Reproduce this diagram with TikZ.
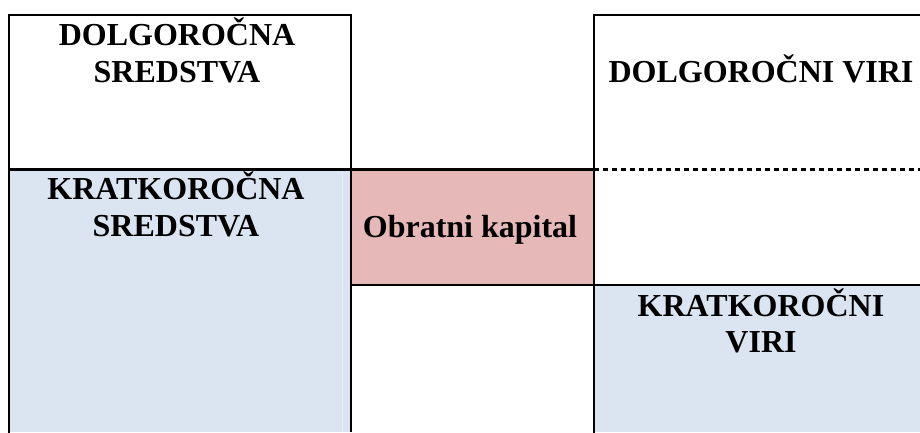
\documentclass[tikz,border=0pt]{standalone}
\usepackage{fontspec}
\setmainfont{Liberation Serif}
\definecolor{ltblue}{HTML}{DBE5F1}
\definecolor{ltpink}{HTML}{E6B9B8}
\definecolor{faint}{HTML}{E6EDF5}
\tikzset{
  lbl/.style={anchor=base, inner sep=0pt, font=\bfseries\fontsize{32}{36}\selectfont},
  rule/.style={line width=2.4pt, black},
  dotrule/.style={line width=2.6pt, black, dash pattern=on 5pt off 4pt}
}
\begin{document}
\begin{tikzpicture}[x=1pt,y=-1pt]
\useasboundingbox (0,0) rectangle (920,432);
\fill[white] (0,0) rectangle (920,432);
% coordinates
\coordinate (tl) at (9,15);
\coordinate (tm) at (351,15);
\coordinate (tr) at (594,15);
\coordinate (te) at (920,15);
\coordinate (ml) at (9,169.5);
\coordinate (mm) at (351,169.5);
\coordinate (mr) at (594,169.5);
\coordinate (me) at (920,169.5);
\coordinate (lm) at (351,285);
\coordinate (lr) at (594,285);
\coordinate (le) at (920,285);
\coordinate (bl) at (9,432);
\coordinate (bm) at (351,432);
\coordinate (br) at (594,432);
\coordinate (be) at (920,432);
% fills
\fill[ltblue] (ml) rectangle (bm);
\fill[ltpink] (mm) rectangle (lr);
\fill[ltblue] (lr) rectangle (be);
\draw[faint, line width=1pt] (342,170) -- (342,432);
% lines
\draw[rule, line cap=rect] (bl) -- (tl) -- (tm);
\draw[rule] (tm) -- (bm);
\draw[rule] (ml) -- (mr);
\draw[rule, line cap=rect] (te) -- (tr) -- (br);
\draw[dotrule] (mr) -- (me);
\draw[rule] (lm) -- (le);
% texts
\node[lbl] (ds1) at (177,45) {DOLGOROČNA};
\node[lbl] (ds2) at (177,82) {SREDSTVA};
\node[lbl] (ks1) at (176,199) {KRATKOROČNA};
\node[lbl] (ks2) at (176,236) {SREDSTVA};
\node[lbl] (ok) at (470,237) {Obratni kapital};
\node[lbl] (dv) at (761,82) {DOLGOROČNI VIRI};
\node[lbl] (kv1) at (761,316) {KRATKOROČNI};
\node[lbl] (kv2) at (761,352) {VIRI};
\end{tikzpicture}
\end{document}
